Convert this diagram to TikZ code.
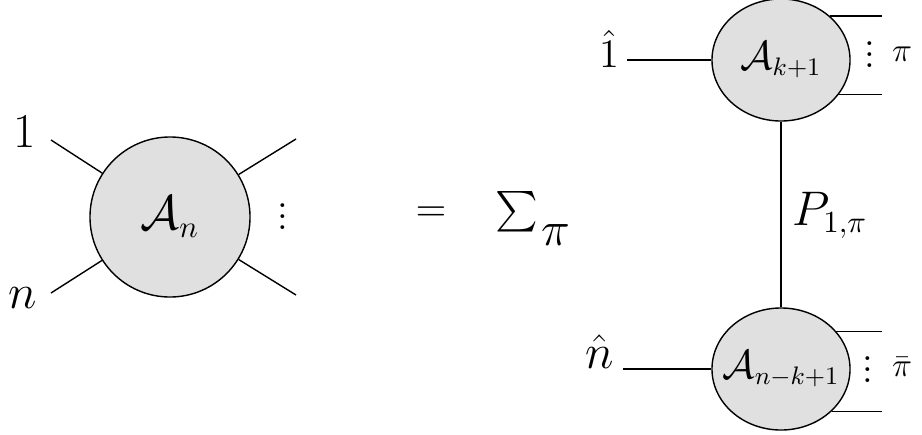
\documentclass[tikz,border=0pt]{standalone}
\usepackage{amsmath}
\usetikzlibrary{positioning,shapes.geometric}
\definecolor{blobgray}{gray}{0.88}

\begin{document}
\begin{tikzpicture}[x=0.0125cm, y=-0.0125cm, line width=0.5pt,
  blob/.style={draw, fill=blobgray, inner sep=0pt},
  oval/.style={blob, ellipse, minimum width=1.725cm, minimum height=1.525cm},
  big/.style={font=\fontsize{16}{19}\selectfont},
  mid/.style={font=\fontsize{13.5}{16}\selectfont},
  small/.style={font=\fontsize{11.5}{14}\selectfont},
  dots/.style={inner sep=0pt, font=\fontsize{14}{17}\selectfont}]
  \useasboundingbox (0,0) rectangle (922,435);

  % left hand side
  \node[blob, circle, minimum size=2cm, big] (An) at (170,217) {$\mathcal{A}_n$};
  \coordinate (a1) at (51,140);
  \coordinate (a2) at (296,139);
  \coordinate (a3) at (296,295);
  \coordinate (an) at (51,293);
  \draw (An) -- (a1);
  \draw (An) -- (a2);
  \draw (An) -- (a3);
  \draw (An) -- (an);
  \node[big] (l1) at (25,132) {$1$};
  \node[big] (ln) at (23,298) {$n$};
  \node[dots] (dl) at (283,208) {$\vdots$};

  \node[font=\fontsize{13.3}{16}\selectfont] (eq) at (431,214) {$=$};
  \node[anchor=base west, inner sep=0pt, font=\fontsize{14.5}{17}\selectfont] (sum) at (495,222)
    {$\sum$\kern1pt\raisebox{-8.2pt}{\fontsize{19}{22}\selectfont$\pi$}};

  % right hand side
  \node[oval, label={[mid]center:$\mathcal{A}_{k+1}$}] (T) at (781,60) {};
  \node[oval, label={[mid]center:$\mathcal{A}_{n-k+1}$}] (B) at (781,369) {};
  \coordinate (h1) at (627,60);
  \coordinate (hn) at (623,369);
  \coordinate (rr) at (882,0);
  \draw (h1) -- (T);
  \draw (hn) -- (B);
  \draw (T) -- (B);
  \draw (T.42) -- (T.42 -| rr);
  \draw (T.-31) -- (T.-31 -| rr);
  \draw (B.34) -- (B.34 -| rr);
  \draw (B.-40) -- (B.-40 -| rr);

  \node[font=\fontsize{15}{18}\selectfont] (l1h) at (609,49) {$\hat{1}$};
  \node[font=\fontsize{17}{20}\selectfont] (lnh) at (600,352) {$\hat{n}$};
  \node[dots] (dt) at (870,46) {$\vdots$};
  \node[dots] (db) at (868,361) {$\vdots$};
  \node[small] (pt) at (902,54) {$\pi$};
  \node[font=\fontsize{13}{16}\selectfont] (pb) at (902,367) {$\bar{\pi}$};
  \node[big, anchor=base west, inner sep=0pt] (P) at (792,225) {$P_{1,\pi}$};
\end{tikzpicture}
\end{document}
